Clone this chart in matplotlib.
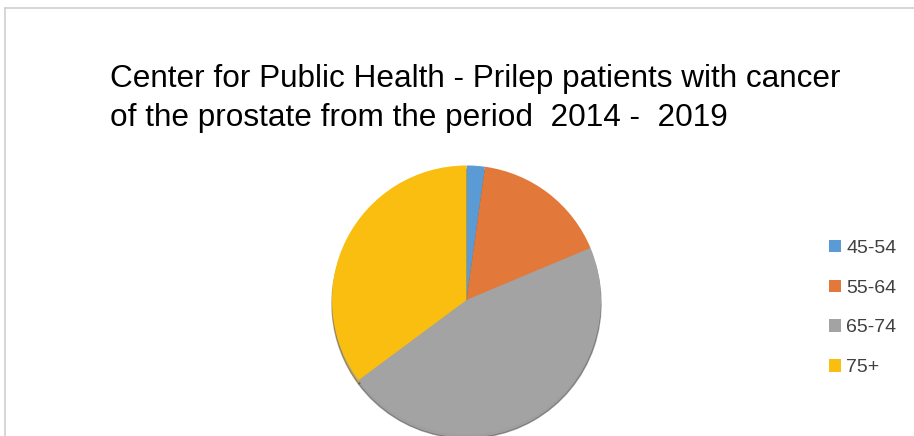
import matplotlib.pyplot as plt
from matplotlib.lines import Line2D

plt.rcParams['font.family'] = ['Liberation Sans', 'DejaVu Sans']

TITLE = "Center for Public Health - Prilep patients with cancer\nof the prostate from the period  2014 -  2019"
AGE_GROUPS = ["45-54", "55-64", "65-74", "75+"]
PATIENTS = [2, 15, 42, 32]
COLORS = ["#5B9BD5", "#E2793A", "#A3A3A3", "#F9BE10"]

W, H = 914, 436


def main():
    fig = plt.figure(figsize=(W / 100, H / 100), dpi=100)

    # chart frame, only left and top edges show in the crop
    fig.add_artist(Line2D([5 / W, 5 / W], [0, 1 - 8 / H], color="#D0D0D0", lw=1.2))
    fig.add_artist(Line2D([5 / W, 1], [1 - 8 / H, 1 - 8 / H], color="#D0D0D0", lw=1.2))

    fig.text(110 / W, 1 - 64 / H, TITLE, ha="left", va="top",
             fontsize=22.7, color="black", linespacing=1.4)

    cx, cy, r = 466.5, 300, 134.5
    ax = fig.add_axes([(cx - r) / W, (H - cy - r) / H, 2 * r / W, 2 * r / H])
    wedges, _ = ax.pie(PATIENTS, colors=COLORS, startangle=90, counterclock=False,
                       radius=1, shadow={'ox': 0.0, 'oy': -0.02, 'shade': 0.6})
    ax.set_xlim(-1, 1)
    ax.set_ylim(-1, 1)
    ax.set_aspect("equal")
    ax.axis("off")

    leg = fig.legend(wedges, AGE_GROUPS, loc="center left",
                     bbox_to_anchor=(811 / W, 1 - 308 / H), frameon=False,
                     fontsize=14, handlelength=0.62, handleheight=0.62,
                     handletextpad=0.3, labelspacing=1.16)
    for t in leg.get_texts():
        t.set_color("#404040")

    fig.savefig("out.png", dpi=100)


if __name__ == "__main__":
    main()
